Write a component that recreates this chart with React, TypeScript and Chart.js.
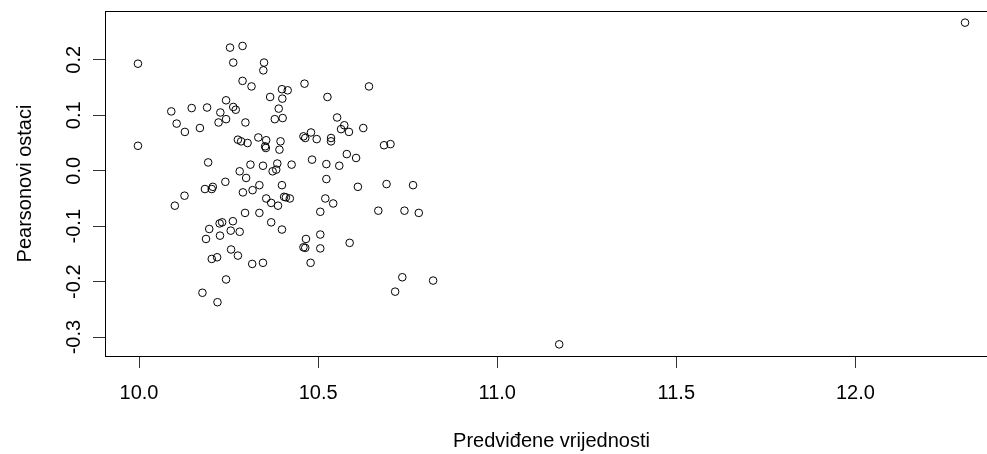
import React, { useEffect, useRef } from "react";
import { Chart, registerables } from "chart.js";

Chart.register(...registerables);

// Fitted values (x) and Pearson residuals (y)
const fittedValues: number[] = [
  9.997, 9.997, 10.090, 10.105, 10.128, 10.147, 10.170, 10.190, 10.227, 10.222,
  10.243, 10.243, 10.263, 10.270, 10.254, 10.289, 10.263, 10.289, 10.314, 10.297,
  10.276, 10.285, 10.303, 10.333, 10.355, 10.352, 10.354, 10.349, 10.347, 10.366,
  10.390, 10.379, 10.401, 10.399, 10.415, 10.400, 10.395, 10.392, 10.193, 10.311,
  10.281, 10.299, 10.346, 10.386, 10.373, 10.383, 10.426, 10.241, 10.206, 10.184,
  10.203, 10.127, 10.100, 10.290, 10.317, 10.336, 10.399, 10.355, 10.369, 10.388,
  10.405, 10.410, 10.421, 10.296, 10.336, 10.369, 10.399, 10.262, 10.232, 10.225,
  10.196, 10.187, 10.226, 10.256, 10.281, 10.257, 10.276, 10.203, 10.218, 10.316,
  10.346, 10.243, 10.177, 10.219, 10.462, 10.642, 10.526, 10.553, 10.573, 10.564,
  10.586, 10.626, 10.459, 10.464, 10.480, 10.496, 10.536, 10.536, 10.684, 10.702,
  10.580, 10.606, 10.483, 10.523, 10.559, 10.523, 10.611, 10.691, 10.765, 10.520,
  10.542, 10.506, 10.668, 10.741, 10.781, 10.466, 10.506, 10.459, 10.464, 10.506,
  10.588, 10.479, 10.735, 10.821, 10.715, 11.173, 12.306,
];

const pearsonResiduals: number[] = [
  0.193, 0.045, 0.107, 0.085, 0.070, 0.113, 0.077, 0.114, 0.105, 0.087,
  0.127, 0.093, 0.115, 0.110, 0.222, 0.225, 0.195, 0.162, 0.152, 0.087,
  0.056, 0.053, 0.050, 0.060, 0.055, 0.044, 0.041, 0.195, 0.181, 0.133,
  0.112, 0.093, 0.095, 0.147, 0.145, 0.130, 0.053, 0.038, 0.015, 0.011,
  -0.001, -0.013, 0.009, 0.013, -0.001, 0.002, 0.011, -0.020, -0.029, -0.033,
  -0.033, -0.045, -0.063, -0.039, -0.035, -0.026, -0.026, -0.050, -0.058, -0.063,
  -0.047, -0.048, -0.050, -0.076, -0.076, -0.093, -0.106, -0.091, -0.093, -0.095,
  -0.105, -0.123, -0.117, -0.108, -0.110, -0.142, -0.153, -0.159, -0.156, -0.168,
  -0.166, -0.196, -0.220, -0.237, 0.157, 0.152, 0.133, 0.096, 0.082, 0.075,
  0.070, 0.077, 0.062, 0.059, 0.069, 0.057, 0.059, 0.053, 0.046, 0.048,
  0.030, 0.023, 0.020, 0.012, 0.009, -0.015, -0.029, -0.024, -0.026, -0.050,
  -0.059, -0.074, -0.072, -0.072, -0.076, -0.123, -0.115, -0.138, -0.139, -0.140,
  -0.130, -0.166, -0.192, -0.198, -0.218, -0.313, 0.267,
];

const xTicks: number[] = [10.0, 10.5, 11.0, 11.5, 12.0];
const yTicks: number[] = [-0.3, -0.2, -0.1, 0.0, 0.1, 0.2];
const xTitle = "Predviđene vrijednosti";
const yTitle = "Pearsonovi ostaci";

const FONT = "'Liberation Sans', Arial, Helvetica, sans-serif";
const FONT_SIZE = 20;

const boxAndYLabels = {
  id: "boxAndYLabels",
  afterDraw(chart: any) {
    const { ctx, chartArea } = chart;
    const ys = chart.scales.y;
    ctx.save();
    ctx.strokeStyle = "#000";
    ctx.lineWidth = 1;
    const l = Math.round(chartArea.left) + 0.5;
    const t = Math.round(chartArea.top) + 0.5;
    const r = Math.round(chartArea.right) + 0.5;
    const b = Math.round(chartArea.bottom) + 0.5;
    ctx.strokeRect(l, t, r - l, b - t);
    ctx.fillStyle = "#000";
    ctx.font = `${FONT_SIZE}px ${FONT}`;
    ctx.textAlign = "center";
    ctx.textBaseline = "alphabetic";
    yTicks.forEach((v) => {
      const py = ys.getPixelForValue(v);
      ctx.save();
      ctx.translate(79.5, py);
      ctx.rotate(-Math.PI / 2);
      ctx.fillText(v.toFixed(1), 0, 0);
      ctx.restore();
    });
    ctx.restore();
  },
};

export default function App() {
  const canvasRef = useRef<HTMLCanvasElement | null>(null);

  useEffect(() => {
    const canvas = canvasRef.current;
    if (!canvas) return;
    const points = fittedValues.map((x, i) => ({ x, y: pearsonResiduals[i] }));
    const chart = new Chart(canvas, {
      type: "scatter",
      data: {
        datasets: [
          {
            data: points,
            pointStyle: "circle",
            pointRadius: 3.8,
            pointBorderWidth: 1,
            pointBorderColor: "#000",
            pointBackgroundColor: "rgba(0,0,0,0)",
            pointHoverRadius: 3.8,
          },
        ],
      },
      options: {
        animation: false,
        responsive: false,
        devicePixelRatio: 1,
        events: [],
        layout: { padding: { top: 11, right: 12, left: 0, bottom: 0 } },
        plugins: {
          legend: { display: false },
          tooltip: { enabled: false },
        },
        scales: {
          x: {
            type: "linear",
            position: "bottom",
            min: 9.905,
            max: 12.398,
            afterFit: (s: any) => {
              s.height = 98;
            },
            afterBuildTicks: (s: any) => {
              s.ticks = xTicks.map((v) => ({ value: v }));
            },
            grid: {
              drawOnChartArea: false,
              drawTicks: true,
              tickLength: 12,
              color: "#333",
              lineWidth: 1,
            },
            border: { display: false },
            ticks: {
              autoSkip: false,
              maxRotation: 0,
              minRotation: 0,
              padding: 13,
              color: "#000",
              font: { family: FONT, size: FONT_SIZE },
              callback: (v: any) => Number(v).toFixed(1),
            },
            title: {
              display: true,
              text: xTitle,
              color: "#000",
              font: { family: FONT, size: FONT_SIZE },
              padding: { top: 0, bottom: 0.5 },
            },
          },
          y: {
            type: "linear",
            position: "left",
            min: -0.334,
            max: 0.288,
            afterFit: (s: any) => {
              s.width = 105;
            },
            afterBuildTicks: (s: any) => {
              s.ticks = yTicks.map((v) => ({ value: v }));
            },
            grid: {
              drawOnChartArea: false,
              drawTicks: true,
              tickLength: 12,
              color: "#333",
              lineWidth: 1,
            },
            border: { display: false },
            ticks: { display: false },
            title: {
              display: true,
              text: yTitle,
              color: "#000",
              font: { family: FONT, size: FONT_SIZE },
              padding: { top: 13, bottom: 0 },
            },
          },
        },
      },
      plugins: [boxAndYLabels],
    });
    return () => chart.destroy();
  }, []);

  return (
    <div
      style={{
        position: "fixed",
        left: 0,
        top: 0,
        width: 987,
        height: 454,
        overflow: "hidden",
        background: "#fff",
      }}
    >
      <canvas ref={canvasRef} width={1010} height={454} style={{ display: "block" }} />
    </div>
  );
}
